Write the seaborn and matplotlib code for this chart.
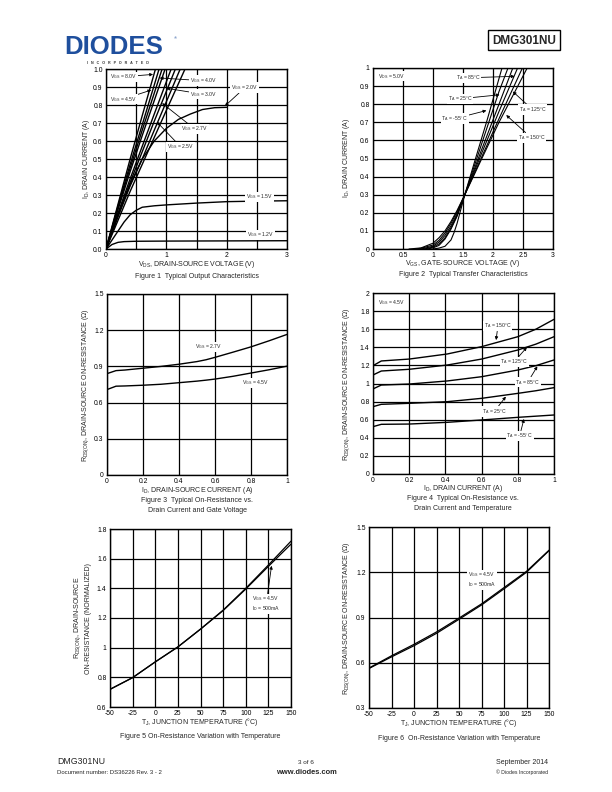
import numpy as np
import pandas as pd
import matplotlib
matplotlib.use('Agg')
import matplotlib.pyplot as plt
import seaborn as sns
from matplotlib.patches import Rectangle

sns.set_theme(style='white')
plt.rcParams['font.family'] = ['Liberation Sans', 'DejaVu Sans']
plt.rcParams['mathtext.fontset'] = 'custom'
plt.rcParams['mathtext.rm'] = 'Liberation Sans'
plt.rcParams['mathtext.it'] = 'Liberation Sans:italic'
plt.rcParams['mathtext.bf'] = 'Liberation Sans:bold'

# ---------------- Figure 1 data: output characteristics ----------------
f1_vds_8v0 = [0, 0.2, 0.4, 0.6, 0.82]
f1_id_8v0 = [0, 0.25, 0.50, 0.74, 1.0]
f1_vds_6v0 = [0, 0.2, 0.4, 0.6, 0.88]
f1_id_6v0 = [0, 0.24, 0.47, 0.69, 1.0]
f1_vds_4v5 = [0, 0.2, 0.4, 0.6, 0.93]
f1_id_4v5 = [0, 0.23, 0.45, 0.66, 1.0]
f1_vds_4v0 = [0, 0.2, 0.4, 0.6, 0.98]
f1_id_4v0 = [0, 0.22, 0.43, 0.63, 1.0]
f1_vds_3v0 = [0, 0.2, 0.4, 0.6, 0.8, 1.08]
f1_id_3v0 = [0, 0.20, 0.39, 0.57, 0.75, 1.0]
f1_vds_2v7 = [0, 0.2, 0.4, 0.6, 0.8, 1.15]
f1_id_2v7 = [0, 0.19, 0.37, 0.54, 0.71, 1.0]
f1_vds_2v5 = [0, 0.2, 0.4, 0.6, 0.8, 1.23]
f1_id_2v5 = [0, 0.18, 0.35, 0.50, 0.66, 1.0]
f1_vds_2v2 = [0, 0.2, 0.4, 0.6, 0.8, 1.0, 1.31]
f1_id_2v2 = [0, 0.16, 0.32, 0.47, 0.62, 0.77, 1.0]
f1_vds_2v0 = [0, 0.2, 0.4, 0.6, 0.8, 1.0, 1.2, 1.4, 1.6, 1.8, 2.0]
f1_id_2v0 = [0, 0.19, 0.36, 0.50, 0.60, 0.67, 0.72, 0.75, 0.775, 0.785, 0.787]
f1_vds_1v5 = [0, 0.1, 0.2, 0.3, 0.4, 0.5, 0.6, 0.8, 1.0, 1.5, 2.0, 2.5, 3.0]
f1_id_1v5 = [0, 0.05, 0.10, 0.15, 0.19, 0.215, 0.232, 0.240, 0.245, 0.255, 0.263, 0.266, 0.268]
f1_vds_1v2 = [0, 0.1, 0.2, 0.3, 0.5, 1.0, 2.0, 3.0]
f1_id_1v2 = [0, 0.025, 0.037, 0.041, 0.043, 0.044, 0.045, 0.046]

# ---------------- Figure 2 data: transfer characteristics ----------------
f2_vgs_m55 = [1.0, 1.1, 1.2, 1.3, 1.35, 1.4, 1.53, 1.7, 1.9, 2.15]
f2_id_m55 = [0, 0.005, 0.015, 0.05, 0.09, 0.14, 0.30, 0.49, 0.71, 1.0]
f2_vgs_25 = [0.9, 1.0, 1.1, 1.2, 1.3, 1.4, 1.53, 1.7, 1.9, 2.1, 2.25]
f2_id_25 = [0, 0.006, 0.02, 0.055, 0.11, 0.18, 0.30, 0.47, 0.67, 0.87, 1.0]
f2_vgs_55 = [0.85, 1.0, 1.1, 1.2, 1.3, 1.4, 1.53, 1.8, 2.1, 2.33]
f2_id_55 = [0, 0.01, 0.028, 0.062, 0.117, 0.185, 0.30, 0.54, 0.80, 1.0]
f2_vgs_85 = [0.8, 1.0, 1.1, 1.2, 1.3, 1.4, 1.53, 1.8, 2.1, 2.41]
f2_id_85 = [0, 0.015, 0.038, 0.075, 0.128, 0.193, 0.30, 0.52, 0.76, 1.0]
f2_vgs_125 = [0.7, 0.8, 1.0, 1.1, 1.2, 1.3, 1.4, 1.53, 1.8, 2.1, 2.49]
f2_id_125 = [0, 0.004, 0.022, 0.048, 0.088, 0.142, 0.205, 0.30, 0.50, 0.72, 1.0]
f2_vgs_150 = [0.6, 0.8, 1.0, 1.1, 1.2, 1.3, 1.4, 1.53, 1.8, 2.1, 2.57]
f2_id_150 = [0, 0.006, 0.032, 0.062, 0.10, 0.152, 0.212, 0.30, 0.49, 0.70, 1.0]

# ---------------- Figure 3 data: RDS(on) vs ID and VGS ----------------
f3_id = [0, 0.05, 0.1, 0.2, 0.3, 0.4, 0.5, 0.55, 0.6, 0.7, 0.8, 0.9, 1.0]
f3_r_2v7 = [0.84, 0.865, 0.870, 0.885, 0.900, 0.918, 0.940, 0.955, 0.975, 1.018, 1.062, 1.112, 1.165]
f3_r_4v5 = [0.708, 0.736, 0.738, 0.744, 0.752, 0.765, 0.778, 0.786, 0.795, 0.818, 0.845, 0.872, 0.902]

# ---------------- Figure 4 data: RDS(on) vs ID and temperature ----------------
f4_id = [0, 0.046, 0.2, 0.41, 0.6, 0.8, 0.9, 1.0]
f4_r_150 = [1.197, 1.249, 1.270, 1.326, 1.407, 1.517, 1.600, 1.709]
f4_r_125 = [1.094, 1.138, 1.157, 1.204, 1.270, 1.370, 1.435, 1.517]
f4_r_85 = [0.940, 0.983, 0.994, 1.028, 1.075, 1.149, 1.197, 1.260]
f4_r_25 = [0.744, 0.770, 0.781, 0.799, 0.836, 0.891, 0.920, 0.954]
f4_r_m55 = [0.523, 0.549, 0.552, 0.571, 0.597, 0.626, 0.639, 0.652]

# ---------------- Figure 5 data: normalized RDS(on) vs TJ ----------------
f5_tj = [-50, -25, 0, 25, 50, 75, 100, 125, 150]
f5_rn_a = [0.719, 0.798, 0.904, 1.005, 1.125, 1.253, 1.400, 1.557, 1.718]
f5_rn_b = [0.719, 0.798, 0.904, 1.005, 1.125, 1.250, 1.395, 1.548, 1.698]

# ---------------- Figure 6 data: RDS(on) vs TJ ----------------
f6_tj = [-50, -25, 0, 25, 50, 75, 100, 125, 150]
f6_r_a = [0.562, 0.639, 0.713, 0.795, 0.888, 0.983, 1.090, 1.200, 1.343]
f6_r_b = [0.565, 0.646, 0.722, 0.804, 0.896, 0.990, 1.098, 1.206, 1.346]

W, H = 612, 792
fig = plt.figure(figsize=(6.12, 7.92), dpi=100)
fig.patch.set_facecolor('white')


def fx(x):
    return x / W


def fy(y):
    return 1 - y / H


def make_ax(left, top, right, bottom):
    ax = fig.add_axes([fx(left), fy(bottom), (right - left) / W, (bottom - top) / H])
    ax.set_facecolor('white')
    for s in ax.spines.values():
        s.set_color('black')
        s.set_linewidth(1.0)
        s.set_visible(True)
    ax.grid(True, color='black', linewidth=0.9)
    ax.set_axisbelow(True)
    ax.tick_params(axis='both', length=0, pad=2.5, labelsize=4.9, colors='black')
    return ax


def curve(ax, x, y, lw=1.0):
    sns.lineplot(x=x, y=y, ax=ax, color='black', linewidth=lw, estimator=None, sort=False, legend=False)


def lbl(ax, text, xy, xytext=None, ha='center', fs=3.7, box=True):
    bbox = dict(boxstyle='square,pad=0.15', fc='white', ec='none') if box else None
    if xytext is None:
        ax.text(xy[0], xy[1], text, ha=ha, va='center', fontsize=fs, bbox=bbox, zorder=5)
    else:
        ax.annotate(text, xy=xy, xytext=xytext, ha=ha, va='center', fontsize=fs, bbox=bbox, zorder=5,
                    arrowprops=dict(arrowstyle='-|>', color='black', lw=0.6, mutation_scale=4.5,
                                    shrinkA=0, shrinkB=0))


def sub(a, b):
    return a + r'$_\mathregular{' + b + '}$'


AXFS = 5.0

# ---------------- Figure 1 ----------------
ax1 = make_ax(106, 69, 287, 249)
for xs, ys in [(f1_vds_8v0, f1_id_8v0), (f1_vds_6v0, f1_id_6v0), (f1_vds_4v5, f1_id_4v5),
               (f1_vds_4v0, f1_id_4v0), (f1_vds_3v0, f1_id_3v0), (f1_vds_2v7, f1_id_2v7),
               (f1_vds_2v5, f1_id_2v5), (f1_vds_2v2, f1_id_2v2), (f1_vds_2v0, f1_id_2v0),
               (f1_vds_1v5, f1_id_1v5), (f1_vds_1v2, f1_id_1v2)]:
    curve(ax1, xs, ys)
ax1.set_xlim(0, 3)
ax1.set_ylim(0, 1.0)
ax1.set_xticks(np.arange(0, 3.01, 0.5))
ax1.set_xticklabels(['0', '', '1', '', '2', '', '3'])
ax1.set_yticks(np.arange(0, 1.001, 0.1))
ax1.set_yticklabels([f'{v:.1f}' for v in np.arange(0, 1.001, 0.1)])
ax1.set_xlabel('')
ax1.set_ylabel('')
lbl(ax1, sub('V', 'GS') + ' = 8.0V', (0.78, 0.97), (0.29, 0.957))
lbl(ax1, sub('V', 'GS') + ' = 4.5V', (0.75, 0.883), (0.29, 0.833))
lbl(ax1, sub('V', 'GS') + ' = 4.0V', (0.89, 0.95), (1.61, 0.935))
lbl(ax1, sub('V', 'GS') + ' = 3.0V', (1.0, 0.893), (1.61, 0.86))
lbl(ax1, sub('V', 'GS') + ' = 2.7V', (0.93, 0.81), (1.47, 0.667))
lbl(ax1, sub('V', 'GS') + ' = 2.5V', (0.84, 0.707), (1.24, 0.567))
lbl(ax1, sub('V', 'GS') + ' = 2.0V', (1.97, 0.794), (2.30, 0.896))
lbl(ax1, sub('V', 'GS') + ' = 1.5V', (2.55, 0.29))
lbl(ax1, sub('V', 'GS') + ' = 1.2V', (2.56, 0.078))
fig.text(fx(197), fy(265), sub('V', 'DS') + ', DRAIN-SOURCE VOLTAGE (V)', ha='center', va='center', fontsize=AXFS)
fig.text(fx(86), fy(159), sub('I', 'D') + ', DRAIN CURRENT (A)', ha='center', va='center', rotation=90, fontsize=AXFS)
fig.text(fx(197), fy(276), 'Figure 1  Typical Output Characteristics', ha='center', va='center', fontsize=AXFS)

# ---------------- Figure 2 ----------------
ax2 = make_ax(373, 68, 553, 249)
for xs, ys in [(f2_vgs_m55, f2_id_m55), (f2_vgs_25, f2_id_25), (f2_vgs_55, f2_id_55),
               (f2_vgs_85, f2_id_85), (f2_vgs_125, f2_id_125), (f2_vgs_150, f2_id_150)]:
    curve(ax2, xs, ys, lw=0.8)
ax2.set_xlim(0, 3)
ax2.set_ylim(0, 1)
ax2.set_xticks(np.arange(0, 3.01, 0.5))
ax2.set_xticklabels(['0', '0.5', '1', '1.5', '2', '2.5', '3'])
ax2.set_yticks(np.arange(0, 1.001, 0.1))
ax2.set_yticklabels(['0', '0.1', '0.2', '0.3', '0.4', '0.5', '0.6', '0.7', '0.8', '0.9', '1'])
ax2.set_xlabel('')
ax2.set_ylabel('')
lbl(ax2, sub('V', 'DS') + ' = 5.0V', (0.08, 0.955), ha='left')
lbl(ax2, sub('T', 'A') + ' = 85°C', (2.36, 0.954), (1.585, 0.946))
lbl(ax2, sub('T', 'A') + ' = 25°C', (2.11, 0.852), (1.45, 0.83))
lbl(ax2, sub('T', 'A') + ' = -55°C', (1.89, 0.765), (1.36, 0.72))
lbl(ax2, sub('T', 'A') + ' = 125°C', (2.33, 0.87), (2.66, 0.77))
lbl(ax2, sub('T', 'A') + ' = 150°C', (2.22, 0.74), (2.64, 0.614))
fig.text(fx(463), fy(264), sub('V', 'GS') + ', GATE-SOURCE VOLTAGE (V)', ha='center', va='center', fontsize=AXFS)
fig.text(fx(347), fy(158), sub('I', 'D') + ', DRAIN CURRENT (A)', ha='center', va='center', rotation=90, fontsize=AXFS)
fig.text(fx(463), fy(274), 'Figure 2  Typical Transfer Characteristics', ha='center', va='center', fontsize=AXFS)

# ---------------- Figure 3 ----------------
ax3 = make_ax(107, 294, 287, 475)
curve(ax3, f3_id, f3_r_2v7)
curve(ax3, f3_id, f3_r_4v5)
ax3.set_xlim(0, 1)
ax3.set_ylim(0, 1.5)
ax3.set_xticks(np.arange(0, 1.001, 0.2))
ax3.set_xticklabels(['0', '0.2', '0.4', '0.6', '0.8', '1'])
ax3.set_yticks(np.arange(0, 1.501, 0.3))
ax3.set_yticklabels(['0', '0.3', '0.6', '0.9', '1.2', '1.5'])
ax3.set_xlabel('')
ax3.set_ylabel('')
lbl(ax3, sub('V', 'GS') + ' = 2.7V', (0.56, 1.062))
lbl(ax3, sub('V', 'GS') + ' = 4.5V', (0.825, 0.764))
fig.text(fx(197), fy(491), sub('I', 'D') + ', DRAIN-SOURCE CURRENT (A)', ha='center', va='center', fontsize=AXFS)
fig.text(fx(86), fy(385), sub('R', 'DS(ON)') + ', DRAIN-SOURCE ON-RESISTANCE (Ω)', ha='center', va='center', rotation=90, fontsize=AXFS)
fig.text(fx(197), fy(501), 'Figure 3  Typical On-Resistance vs.', ha='center', va='center', fontsize=AXFS)
fig.text(fx(197), fy(511), 'Drain Current and Gate Voltage', ha='center', va='center', fontsize=AXFS)

# ---------------- Figure 4 ----------------
ax4 = make_ax(373, 293, 554, 474)
for ys in [f4_r_150, f4_r_125, f4_r_85, f4_r_25, f4_r_m55]:
    curve(ax4, f4_id, ys)
ax4.set_xlim(0, 1)
ax4.set_ylim(0, 2)
ax4.set_xticks(np.arange(0, 1.001, 0.2))
ax4.set_xticklabels(['0', '0.2', '0.4', '0.6', '0.8', '1'])
ax4.set_yticks(np.arange(0, 2.001, 0.2))
ax4.set_yticklabels(['0', '0.2', '0.4', '0.6', '0.8', '1', '1.2', '1.4', '1.6', '1.8', '2'])
ax4.set_xlabel('')
ax4.set_ylabel('')
lbl(ax4, sub('V', 'GS') + ' = 4.5V', (0.03, 1.90), ha='left')
lbl(ax4, sub('T', 'A') + ' = 150°C', (0.68, 1.48), (0.69, 1.635))
lbl(ax4, sub('T', 'A') + ' = 125°C', (0.85, 1.40), (0.78, 1.24))
lbl(ax4, sub('T', 'A') + ' = 85°C', (0.908, 1.19), (0.855, 1.015))
lbl(ax4, sub('T', 'A') + ' = 25°C', (0.734, 0.855), (0.67, 0.69))
lbl(ax4, sub('T', 'A') + ' = -55°C', (0.834, 0.608), (0.81, 0.42))
fig.text(fx(463), fy(489), sub('I', 'D') + ', DRAIN CURRENT (A)', ha='center', va='center', fontsize=AXFS)
fig.text(fx(347), fy(384), sub('R', 'DS(ON)') + ', DRAIN-SOURCE ON-RESISTANCE (Ω)', ha='center', va='center', rotation=90, fontsize=AXFS)
fig.text(fx(463), fy(499), 'Figure 4  Typical On-Resistance vs.', ha='center', va='center', fontsize=AXFS)
fig.text(fx(463), fy(509), 'Drain Current and Temperature', ha='center', va='center', fontsize=AXFS)

# ---------------- Figure 5 ----------------
ax5 = make_ax(110, 529, 291, 707)
curve(ax5, f5_tj, f5_rn_a, lw=0.9)
curve(ax5, f5_tj, f5_rn_b, lw=0.9)
ax5.set_xlim(-50, 150)
ax5.set_ylim(0.6, 1.8)
ax5.set_xticks(np.arange(-50, 151, 25))
ax5.set_xticklabels([str(v) for v in range(-50, 151, 25)])
ax5.set_yticks(np.arange(0.6, 1.801, 0.2))
ax5.set_yticklabels(['0.6', '0.8', '1', '1.2', '1.4', '1.6', '1.8'])
ax5.set_xlabel('')
ax5.set_ylabel('')
lbl(ax5, sub('V', 'GS') + ' = 4.5V\n' + sub('I', 'D') + ' = 500mA', (128.5, 1.552), (107, 1.295), ha='left')
fig.text(fx(200), fy(722), sub('T', 'J') + ', JUNCTION TEMPERATURE (°C)', ha='center', va='center', fontsize=AXFS)
fig.text(fx(78), fy(618), sub('R', 'DS(ON)') + ', DRAIN-SOURCE', ha='center', va='center', rotation=90, fontsize=AXFS)
fig.text(fx(88), fy(618), 'ON-RESISTANCE (NORMALIZED)', ha='center', va='center', rotation=90, fontsize=AXFS)
fig.text(fx(200), fy(737), 'Figure 5 On-Resistance Variation with Temperature', ha='center', va='center', fontsize=AXFS)

# ---------------- Figure 6 ----------------
ax6 = make_ax(369, 527, 549, 708)
curve(ax6, f6_tj, f6_r_a, lw=0.9)
curve(ax6, f6_tj, f6_r_b, lw=0.9)
ax6.set_xlim(-50, 150)
ax6.set_ylim(0.3, 1.5)
ax6.set_xticks(np.arange(-50, 151, 25))
ax6.set_xticklabels([str(v) for v in range(-50, 151, 25)])
ax6.set_yticks(np.arange(0.3, 1.501, 0.3))
ax6.set_yticklabels(['0.3', '0.6', '0.9', '1.2', '1.5'])
ax6.set_xlabel('')
ax6.set_ylabel('')
lbl(ax6, sub('V', 'GS') + ' = 4.5V\n' + sub('I', 'D') + ' = 500mA', (60, 1.15), ha='left')
fig.text(fx(459), fy(723), sub('T', 'J') + ', JUNCTION TEMPERATURE (°C)', ha='center', va='center', fontsize=AXFS)
fig.text(fx(347), fy(618), sub('R', 'DS(ON)') + ', DRAIN-SOURCE ON-RESISTANCE (Ω)', ha='center', va='center', rotation=90, fontsize=AXFS)
fig.text(fx(459), fy(738), 'Figure 6  On-Resistance Variation with Temperature', ha='center', va='center', fontsize=AXFS)

# ---------------- Header ----------------
fig.text(fx(64), fy(54), 'DIODES', ha='left', va='baseline', fontsize=18.5, fontweight='bold', color='#1f4f9d')
fig.text(fx(175), fy(38), '®', ha='center', va='center', fontsize=3, color='#1f4f9d')
fig.text(fx(118), fy(62.5), 'I   N   C   O   R   P   O   R   A   T   E   D', ha='center', va='center',
         fontsize=2.6, fontweight='bold', color='#333333')
fig.patches.append(Rectangle((fx(488), fy(50)), (560 - 488) / W, 20 / H, transform=fig.transFigure,
                             fill=False, edgecolor='black', linewidth=1.0))
fig.text(fx(524), fy(40.5), 'DMG301NU', ha='center', va='center', fontsize=8.5, fontweight='bold')

# ---------------- Footer ----------------
fig.text(fx(57), fy(762), 'DMG301NU', ha='left', va='center', fontsize=6.3)
fig.text(fx(57), fy(772), 'Document number: DS36226 Rev. 3 - 2', ha='left', va='center', fontsize=4.3)
fig.text(fx(306), fy(762), '3 of 6', ha='center', va='center', fontsize=4.6)
fig.text(fx(306), fy(772), 'www.diodes.com', ha='center', va='center', fontsize=5.4, fontweight='bold')
fig.text(fx(548), fy(762), 'September 2014', ha='right', va='center', fontsize=5.0)
fig.text(fx(548), fy(772), '© Diodes Incorporated', ha='right', va='center', fontsize=3.7)

fig.savefig('out.png', dpi=100, facecolor='white')
